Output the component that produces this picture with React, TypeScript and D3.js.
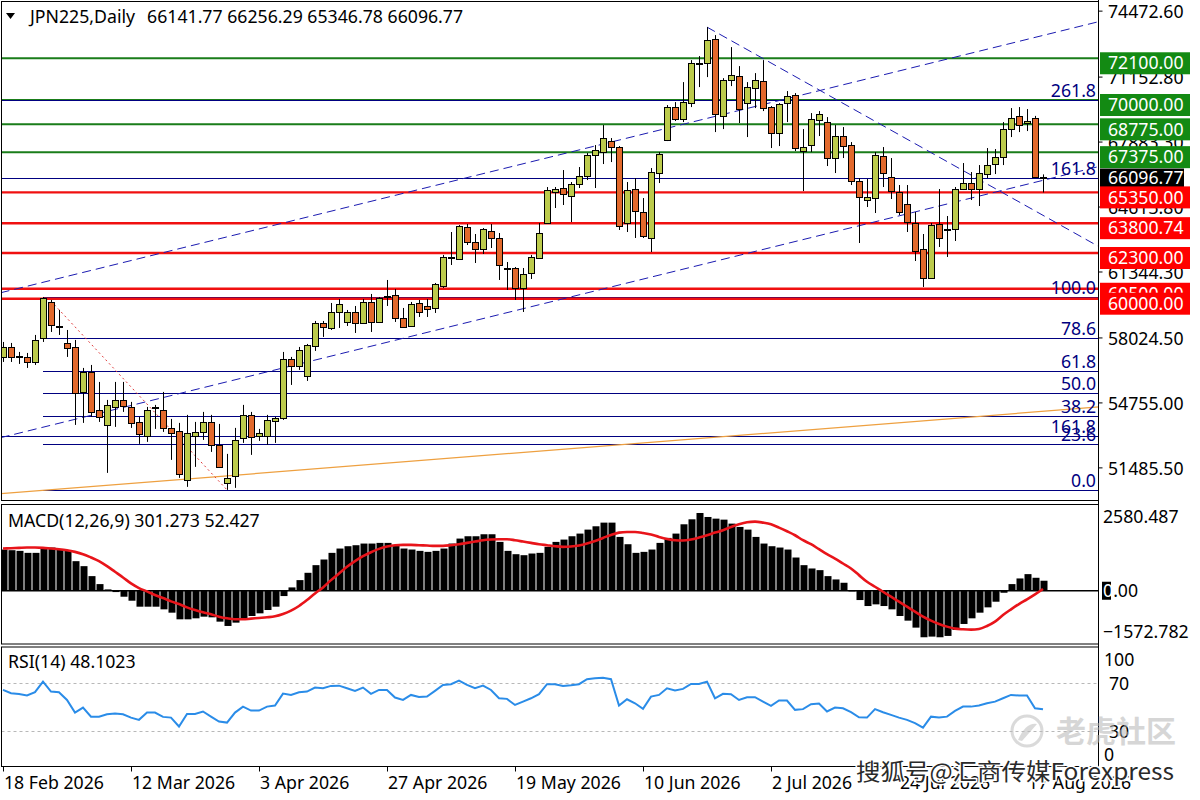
import { useEffect } from "react";
import * as d3 from "d3";

// ---- data (JPN225 daily) ----
const firstDay = "2026-02-18"; // trading days only, one candle per weekday

// [open, high, low, close]
const ohlc: [number, number, number, number][] = [
  [57069, 57823, 56817, 57572], [57572, 57773, 56817, 57069], [57120, 57320, 56717, 57095], [57069, 57270, 56516, 56817],
  [56817, 58176, 56666, 57924], [58024, 60087, 57823, 60037], [59836, 59936, 58326, 58678], [58628, 59433, 58176, 58603],
  [57773, 58427, 57069, 57522], [57572, 57924, 53648, 55258], [55308, 56516, 53749, 56317], [56317, 56666, 54051, 54302],
  [54403, 55811, 53799, 54051], [53648, 54906, 51234, 54655], [54554, 55811, 53548, 54906], [54906, 55811, 54302, 54604],
  [54554, 54806, 53498, 53749], [53799, 54051, 52693, 53196], [53095, 54554, 52794, 54403], [54554, 54655, 53447, 54530],
  [54403, 55308, 53296, 53498], [53498, 53950, 51888, 53246], [53346, 53749, 50983, 51184], [50882, 54152, 50530, 53246],
  [53095, 53799, 51536, 53296], [53296, 54302, 52894, 53799], [53799, 54152, 52290, 52643], [52643, 53698, 51486, 51536],
  [50731, 52190, 50379, 50983], [51083, 53498, 50480, 52894], [52995, 54655, 52743, 54152], [54152, 54302, 52140, 53045],
  [53095, 53447, 52844, 53246], [53095, 54152, 52643, 53900], [53849, 54051, 52743, 54000], [54000, 57320, 53900, 56968],
  [56968, 57069, 55660, 56616], [56616, 57572, 56415, 57421], [56113, 57723, 55862, 57672], [57622, 58880, 57371, 58779],
  [58779, 58880, 58075, 58578], [58528, 59785, 58427, 59332], [59332, 59986, 58528, 59735], [58829, 59433, 58628, 59332],
  [59332, 59634, 58276, 58779], [58779, 59986, 58729, 59836], [59836, 60238, 58326, 58829], [58829, 60087, 58829, 60037],
  [60137, 60942, 59634, 60112], [60188, 60489, 58829, 59030], [59030, 59534, 58528, 58578], [58628, 59836, 58578, 59735],
  [59785, 59936, 59081, 59332], [59634, 59986, 59081, 59483], [59534, 60791, 59282, 60741], [60640, 62203, 60540, 62099],
  [62049, 63356, 61696, 62099], [61998, 63708, 61948, 63658], [63608, 63759, 62702, 62853], [62853, 63256, 61797, 62501],
  [62501, 63558, 62250, 63507], [63407, 63759, 62551, 63055], [63055, 63306, 60942, 61696], [61545, 61847, 60439, 61495],
  [61545, 61596, 59936, 60540], [60540, 61545, 59332, 61244], [61294, 62203, 60992, 62099], [62049, 63809, 61998, 63306],
  [63809, 65620, 63759, 65469], [65368, 65620, 64564, 65519], [65570, 66475, 64715, 65268], [65167, 65871, 63859, 65771],
  [65771, 66626, 65570, 66173], [66173, 67330, 65972, 67230], [67230, 67732, 65570, 67481], [67380, 68739, 66777, 68085],
  [67934, 68085, 66877, 67632], [67632, 67682, 63457, 63658], [63809, 65871, 63356, 65469], [65519, 66073, 63055, 64413],
  [64362, 65066, 63055, 63155], [63055, 66576, 62350, 66374], [66324, 67380, 65821, 67280], [67984, 69745, 67934, 69644],
  [69644, 69895, 68940, 69040], [69040, 70901, 68889, 69895], [69845, 72008, 69644, 71857], [71857, 72209, 70650, 71832],
  [71857, 73668, 71153, 73014], [73064, 73266, 68386, 69292], [69191, 71100, 68537, 71027], [71002, 72662, 70700, 71254],
  [71203, 71706, 68839, 69544], [69845, 70901, 68135, 70650], [70600, 71354, 69594, 71002], [70952, 72008, 69443, 69594],
  [69644, 69694, 67582, 68336], [68336, 69845, 67682, 69795], [69845, 70449, 68889, 70197], [70248, 70348, 67431, 67582],
  [67431, 68537, 65419, 67632], [67732, 69342, 67380, 69040], [68990, 69443, 68185, 69292], [68889, 69141, 66676, 67079],
  [67079, 68739, 66324, 68185], [68185, 68638, 67079, 67682], [67732, 67883, 65721, 65922], [65922, 66073, 62803, 65117],
  [64966, 66022, 64614, 65117], [65066, 67380, 64312, 67230], [67179, 67632, 65620, 66324], [66123, 67079, 65016, 65419],
  [65368, 65721, 64211, 64362], [64765, 65721, 63356, 63859], [63809, 64362, 61897, 62401], [62501, 63256, 60590, 61043],
  [61043, 63809, 60993, 63708], [63759, 65519, 62602, 63055], [63507, 64161, 62099, 63482], [63507, 65620, 62904, 65519],
  [65519, 66827, 65469, 65821], [65821, 66374, 64966, 65519], [65519, 66726, 64664, 66324], [66274, 67582, 66073, 66726],
  [66777, 67531, 66274, 67129], [67129, 68889, 66726, 68537], [68537, 69594, 68135, 69091], [69191, 69644, 68386, 68739],
  [68839, 69544, 68437, 68940], [69091, 69200, 66100, 66140], [66141.77, 66256.29, 65346.78, 66096.77],
];

const macdHist = [
  1240, 1220, 1200, 1140, 1140, 1300, 1300, 1240, 1220, 890,
  740, 440, 200, 40, -40, -180, -300, -480, -480, -480,
  -560, -660, -860, -860, -830, -780, -800, -930, -1060, -960,
  -860, -760, -680, -580, -480, -160, 100, 320, 540, 770,
  940, 1140, 1270, 1340, 1370, 1420, 1420, 1440, 1440, 1370,
  1270, 1240, 1200, 1170, 1200, 1270, 1420, 1570, 1640, 1640,
  1700, 1700, 1470, 1200, 1100, 1070, 1120, 1140, 1320, 1470,
  1540, 1640, 1720, 1840, 1940, 2050, 2050, 1620, 1400, 1140,
  1170, 1240, 1440, 1590, 1720, 2000, 2150, 2340, 2220, 2170,
  2140, 2020, 1920, 1840, 1620, 1420, 1340, 1300, 1240, 1000,
  770, 670, 620, 440, 340, 240, -20, -280, -460, -410,
  -460, -560, -760, -900, -1110, -1400, -1380, -1400, -1360, -1180,
  -1000, -830, -660, -500, -330, -60, 200, 370, 500, 390,
  301.273,
];

const macdSignal = [
  1270, 1280, 1290, 1300, 1300, 1290, 1270, 1250, 1220, 1170,
  1100, 1000, 890, 740, 570, 400, 220, 80, -20, -130,
  -220, -320, -400, -500, -580, -650, -710, -780, -830, -860,
  -860, -840, -820, -800, -770, -700, -600, -460, -280, -80,
  100, 320, 520, 720, 890, 1040, 1160, 1260, 1330, 1370,
  1380, 1380, 1370, 1360, 1350, 1350, 1370, 1400, 1440, 1480,
  1520, 1540, 1550, 1550, 1520, 1480, 1440, 1400, 1370, 1340,
  1320, 1330, 1360, 1420, 1500, 1590, 1680, 1750, 1770, 1770,
  1740, 1690, 1620, 1560, 1520, 1510, 1540, 1600, 1670, 1750,
  1820, 1920, 2000, 2060, 2080, 2050, 2000, 1900, 1790, 1670,
  1520, 1400, 1250, 1100, 970, 820, 670, 470, 270, 120,
  -30, -180, -330, -480, -630, -780, -900, -1000, -1080, -1140,
  -1160, -1170, -1150, -1060, -930, -730, -560, -400, -260, -110,
  52.427,
];

const rsiValues = [
  64.4, 61.6, 61, 59.7, 62.5, 71.4, 63, 62.5, 56, 45.4,
  49.6, 42, 42, 44, 44.6, 44, 41.2, 39.3, 45.4, 45.4,
  41.8, 41.2, 33.7, 44.3, 44.3, 46.3, 42, 37.9, 37, 45.4,
  50.4, 47.1, 47.1, 50.4, 51.3, 61.3, 60.2, 62.5, 63, 66.4,
  65.8, 67.8, 68, 65.8, 63.6, 66.4, 61.1, 64.4, 64.4, 58,
  56, 60.2, 58.5, 58.8, 63.6, 68.6, 69.2, 72.2, 68.6, 65.8,
  68, 64.4, 57.4, 56.9, 51.8, 54.6, 57.4, 60.8, 69.2, 69.2,
  67.8, 68.3, 69.2, 73.4, 74.2, 74.7, 73.4, 51.3, 56.6, 53.2,
  48.5, 58.8, 60.2, 65.8, 63.9, 65.3, 69.4, 69.4, 71.4, 57.4,
  61.1, 60.8, 56, 58.3, 58.3, 54.6, 51, 55.5, 55.5, 47.7,
  48.3, 52.4, 53, 46.3, 49.6, 49, 45.7, 41.5, 41.2, 48.3,
  45.7, 43.5, 41.2, 39.3, 36.5, 32.8, 42, 41.2, 42, 46.8,
  50.4, 50.4, 51.3, 53.2, 54.6, 57.4, 60.2, 59.7, 59.7, 49,
  48.1023,
];

const tickDates = ["2026-02-18", "2026-03-12", "2026-04-03", "2026-04-27", "2026-05-19", "2026-06-10", "2026-07-02", "2026-07-24", "2026-08-17"];
const priceTicks = [74472.6, 71152.8, 67883.3, 64613.8, 61344.3, 58024.5, 54755.0, 51485.5];
const resistanceLevels = [72100, 70000, 68775, 67375];
const supportLevels = [65350, 63800.74, 62300, 60500, 60000];
const lastPrice = 66096.77;

// fibonacci levels: label, price, and whether the line spans the whole window
const fibLevels: { label: string; price: number; full: boolean }[] = [
  { label: "261.8", price: 70000, full: true },
  { label: "161.8", price: 66087, full: true },
  { label: "100.0", price: 60087, full: false },
  { label: "78.6", price: 58009, full: false },
  { label: "61.8", price: 56379, full: false },
  { label: "50.0", price: 55233, full: false },
  { label: "38.2", price: 54087, full: false },
  { label: "161.8", price: 53095, full: true },
  { label: "23.6", price: 52670, full: false },
  { label: "0.0", price: 50379, full: false },
];
const fibStartBar = 5;

// trend lines as two anchors [bar index, price]
const channelUpper: [number, number][] = [[0, 60328], [130, 73250]];
const channelLower: [number, number][] = [[0, 53035], [130, 65957]];
const peakLine: [number, number][] = [[88, 73668], [130, 64196]];
const orangeLine: [number, number][] = [[0, 50193], [130, 54332]];
const fibBase: [number, number][] = [[6, 59880], [28, 50379]];

const macdRange = [-1572.782, 2580.487];

// ---- layout ----
const FONT = "'Noto Sans', sans-serif";
const FS = 17.7;
const left = 1.5;
const right = 1098.5;
const mainPane = { top: 1.5, bottom: 500.5 };
const macdPane = { top: 504.5, bottom: 644 };
const rsiPane = { top: 647, bottom: 766.5 };
const BULL = "#bccb4c";
const BEAR = "#e2692c";
const GREEN = "#1a7d1a";
const RED = "#f01010";
const NAVY = "#000080";
const TREND = "#1b1bb0";

export default function App() {
  useEffect(() => {
    document.body.style.margin = "0";
  }, []);

  const fmtKey = d3.utcFormat("%Y-%m-%d");
  const start = d3.utcParse("%Y-%m-%d")(firstDay)!;
  const dates = d3.utcDay
    .range(start, d3.utcDay.offset(start, 400))
    .filter((d) => d.getUTCDay() % 6 !== 0)
    .slice(0, ohlc.length)
    .map(fmtKey);
  const fmtTick = d3.utcFormat("%-d %b %Y");

  const xBand = d3.scaleBand<string>().domain(dates).range([-0.7, -0.7 + 8 * dates.length]);
  const xc = (k: string) => Math.round((xBand(k) ?? 0) + xBand.bandwidth() / 2);
  const xIdx = d3.scaleLinear().domain([0, 1]).range([xc(dates[0]), xc(dates[0]) + xBand.step()]);

  const y = d3.scaleLinear().domain([49869, 74932]).range([500, 2]);
  const yMacd = d3.scaleLinear().domain(macdRange).range([643, 505]);
  const yRsi = d3.scaleLinear().domain([0, 100]).range([766.7, 647.5]);

  const extend = (pts: [number, number][], fromIdx: number, toIdx: number) => {
    const [[i0, p0], [i1, p1]] = pts;
    const f = d3.scaleLinear().domain([i0, i1]).range([p0, p1]);
    return { x1: xIdx(fromIdx), y1: y(f(fromIdx)), x2: xIdx(toIdx), y2: y(f(toIdx)) };
  };
  const upper = extend(channelUpper, -2, 140);
  const lower = extend(channelLower, -2, 140);
  const peak = extend(peakLine, peakLine[0][0], 140);
  const orange = extend(orangeLine, -2, 140);
  const base = extend(fibBase, fibBase[0][0], fibBase[1][0]);

  const signalPath = d3
    .line<number>()
    .x((_, i) => xc(dates[i]))
    .y((d) => yMacd(d))
    .curve(d3.curveMonotoneX)(macdSignal);
  const rsiPath = d3
    .line<number>()
    .x((_, i) => xc(dates[i]))
    .y((d) => yRsi(d))(rsiValues);

  const f2 = d3.format(".2f");
  const last = ohlc[ohlc.length - 1];

  return (
    <div style={{ position: "absolute", left: 0, top: 0, width: 1200, height: 800, background: "#fff" }}>
      <svg width={1200} height={800} style={{ display: "block", fontFamily: FONT }}>
        <defs>
          <clipPath id="mainClip">
            <rect x={left} y={mainPane.top} width={right - left} height={mainPane.bottom - mainPane.top} />
          </clipPath>
          <clipPath id="macdClip">
            <rect x={left} y={macdPane.top} width={right - left} height={macdPane.bottom - macdPane.top} />
          </clipPath>
          <clipPath id="rsiClip">
            <rect x={left} y={rsiPane.top} width={right - left} height={rsiPane.bottom - rsiPane.top} />
          </clipPath>
        </defs>
        <rect width={1200} height={800} fill="#fff" />

        {/* ---- main price window ---- */}
        <g clipPath="url(#mainClip)">
          {/* fib retracement levels */}
          {fibLevels.map((f, i) => (
            <line
              key={`fib${i}`}
              x1={f.full ? left : xIdx(fibStartBar)}
              x2={right}
              y1={Math.round(y(f.price)) + 0.5}
              y2={Math.round(y(f.price)) + 0.5}
              stroke={NAVY}
              strokeWidth={1}
            />
          ))}
          {/* support / resistance */}
          {resistanceLevels.map((p) => (
            <line key={`r${p}`} x1={left} x2={right} y1={y(p)} y2={y(p)} stroke={GREEN} strokeWidth={2} />
          ))}
          {supportLevels.map((p) => (
            <line key={`s${p}`} x1={left} x2={right} y1={y(p)} y2={y(p)} stroke={RED} strokeWidth={2.4} />
          ))}
          <line x1={left} x2={right} y1={Math.round(y(70000)) + 0.5} y2={Math.round(y(70000)) + 0.5} stroke={NAVY} strokeWidth={1} />
          {/* trend lines */}
          <line {...orange} stroke="#eea040" strokeWidth={1.2} />
          <line {...upper} stroke={TREND} strokeWidth={1} strokeDasharray="9,5" />
          <line {...lower} stroke={TREND} strokeWidth={1} strokeDasharray="9,5" />
          <line {...peak} stroke={TREND} strokeWidth={1} strokeDasharray="9,5" />
          <line {...base} stroke="#e03c3c" strokeWidth={1} strokeDasharray="2,3" />

          {/* candles */}
          {ohlc.map(([o, h, l, c], i) => {
            const cx = xc(dates[i]);
            const top = Math.round(y(Math.max(o, c)));
            const bot = Math.round(y(Math.min(o, c)));
            return (
              <g key={`c${i}`}>
                <line x1={cx + 0.5} x2={cx + 0.5} y1={y(h)} y2={y(l)} stroke="#000" strokeWidth={1} />
                <rect
                  x={cx - 2.5}
                  y={top + 0.5}
                  width={6}
                  height={Math.max(1, bot - top)}
                  fill={c >= o ? BULL : BEAR}
                  stroke="#000"
                  strokeWidth={1}
                />
              </g>
            );
          })}
        </g>

        {/* fib labels */}
        {fibLevels.map((f, i) => (
          <text key={`fl${i}`} x={1096} y={y(f.price) - 3} textAnchor="end" fontSize={FS} fill={NAVY}>
            {f.label}
          </text>
        ))}

        {/* header */}
        <path d="M6,13 L15,13 L10.5,19 Z" fill="#000" />
        <text x={30} y={23} fontSize={FS} fill="#000">
          <tspan>JPN225,Daily</tspan>
          <tspan dx={12}>{last.map(f2).join(" ")}</tspan>
        </text>

        {/* ---- MACD window ---- */}
        <g clipPath="url(#macdClip)">
          {macdHist.map((v, i) => {
            const cx = xc(dates[i]);
            const y0 = yMacd(0);
            const yv = yMacd(v);
            return <rect key={`m${i}`} x={cx - 2.5} y={Math.min(y0, yv)} width={7} height={Math.abs(yv - y0)} fill="#000" />;
          })}
          <line x1={left} x2={right} y1={yMacd(0)} y2={yMacd(0)} stroke="#000" strokeWidth={1.5} />
          <path d={signalPath ?? ""} fill="none" stroke="#e8141a" strokeWidth={2.6} />
        </g>
        <text x={8} y={527} fontSize={FS} fill="#000">
          {`MACD(12,26,9) ${d3.format(".3f")(macdHist[macdHist.length - 1])} ${d3.format(".3f")(macdSignal[macdSignal.length - 1])}`}
        </text>

        {/* ---- RSI window ---- */}
        <g clipPath="url(#rsiClip)">
          {[70, 30].map((lv) => (
            <line
              key={`lv${lv}`}
              x1={left}
              x2={right}
              y1={Math.round(yRsi(lv)) + 0.5}
              y2={Math.round(yRsi(lv)) + 0.5}
              stroke="#b8b8b8"
              strokeWidth={1}
              strokeDasharray="3,3"
            />
          ))}
          <path d={rsiPath ?? ""} fill="none" stroke="#2a8ce8" strokeWidth={2} />
        </g>
        <text x={8} y={668} fontSize={FS} fill="#000">
          {`RSI(14) ${d3.format(".4f")(rsiValues[rsiValues.length - 1])}`}
        </text>

        {/* panel frames */}
        {[mainPane, macdPane, rsiPane].map((p, i) => (
          <rect key={`f${i}`} x={left} y={p.top} width={right - left} height={p.bottom - p.top} fill="none" stroke="#000" strokeWidth={1} />
        ))}
        <line x1={right} x2={right} y1={0} y2={772} stroke="#000" strokeWidth={1} />

        {/* ---- price axis ---- */}
        {priceTicks.map((p) => (
          <g key={`pt${p}`}>
            <line x1={right} x2={right + 4} y1={y(p)} y2={y(p)} stroke="#000" />
            <text x={1108} y={y(p) + 1} dy="0.35em" fontSize={FS} fill="#000">
              {f2(p)}
            </text>
          </g>
        ))}
        {resistanceLevels.map((p) => (
          <g key={`rb${p}`}>
            <rect x={1100} y={y(p) + 5 - 11} width={90} height={22} fill="#138a13" />
            <text x={1108} y={y(p) + 5} dy="0.35em" fontSize={FS} fill="#fff">
              {f2(p)}
            </text>
          </g>
        ))}
        <rect x={1100} y={y(lastPrice) - 9} width={84} height={19} fill="#000" />
        <text x={1108} y={y(lastPrice) + 0.5} dy="0.35em" fontSize={FS} fill="#fff">
          {f2(lastPrice)}
        </text>
        {supportLevels.map((p) => (
          <g key={`sb${p}`}>
            <rect x={1100} y={y(p) + 5 - 11} width={90} height={22} fill="#f00" />
            <text x={1108} y={y(p) + 5} dy="0.35em" fontSize={FS} fill="#fff">
              {f2(p)}
            </text>
          </g>
        ))}

        {/* MACD axis */}
        <text x={1103} y={517} dy="0.35em" fontSize={FS} fill="#000">
          {d3.format(".3f")(macdRange[1])}
        </text>
        <rect x={1102} y={yMacd(0) - 9} width={9} height={18} fill="#000" />
        <text x={1103} y={yMacd(0)} dy="0.35em" fontSize={FS} fill="#000">
          <tspan fill="#fff">0</tspan>.00
        </text>
        <text x={1103} y={632} dy="0.35em" fontSize={FS} fill="#000">
          {d3.format(".3f")(macdRange[0])}
        </text>

        {/* RSI axis */}
        <text x={1104} y={660} dy="0.35em" fontSize={FS} fill="#000">100</text>
        <text x={1109} y={yRsi(70) + 1} dy="0.35em" fontSize={FS} fill="#000">70</text>
        <text x={1109} y={yRsi(30) + 1} dy="0.35em" fontSize={FS} fill="#000">30</text>
        <text x={1104} y={755} dy="0.35em" fontSize={FS} fill="#000">0</text>

        {/* time axis */}
        {tickDates.map((d) => {
          const x = xc(d);
          return (
            <g key={`dt${d}`}>
              <line x1={x + 0.5} x2={x + 0.5} y1={rsiPane.bottom} y2={rsiPane.bottom + 5} stroke="#000" />
              <text x={x + 1} y={783} dy="0.35em" fontSize={FS} fill="#000">
                {fmtTick(d3.utcParse("%Y-%m-%d")(d)!)}
              </text>
            </g>
          );
        })}

        {/* watermarks */}
        <g opacity={0.55}>
          <circle cx={1027} cy={731} r={15} fill="none" stroke="#bdbdbd" strokeWidth={3} />
          <path d="M1018,740 Q1026,722 1037,724 Q1030,732 1022,741 Z" fill="#bdbdbd" />
          <text x={1056} y={731} dy="0.35em" fontSize={30} fontWeight={700} fill="#b5b5b5" fontFamily="'Noto Sans CJK SC', sans-serif">
            老虎社区
          </text>
        </g>
        <text
          x={856}
          y={772}
          dy="0.35em"
          fontSize={23}
          textLength={318}
          lengthAdjust="spacingAndGlyphs"
          fill="#2a2a2a"
          stroke="#fff"
          strokeWidth={3}
          paintOrder="stroke"
          fontFamily="'Noto Sans CJK SC', sans-serif"
        >
          搜狐号@汇商传媒Forexpress
        </text>
      </svg>
    </div>
  );
}
